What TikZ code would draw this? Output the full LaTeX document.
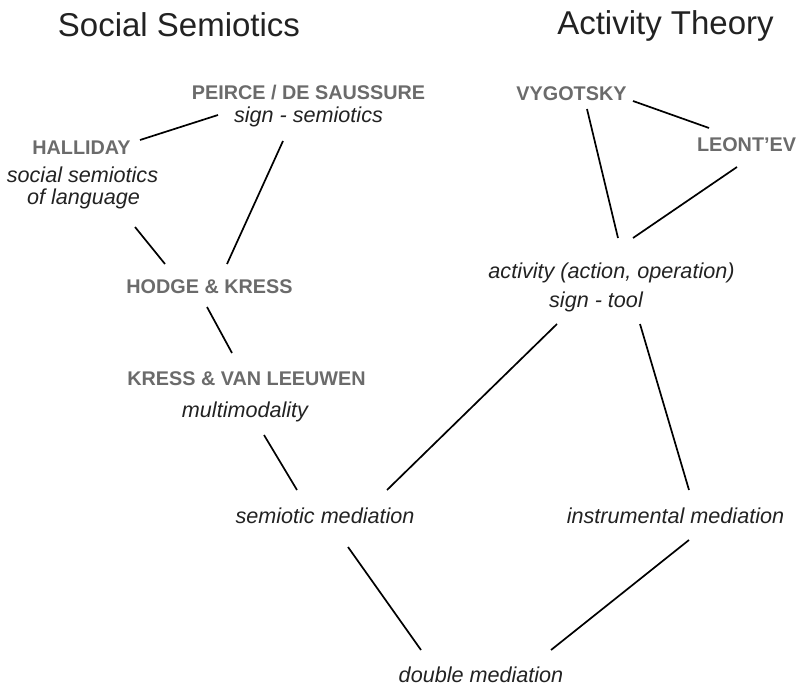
\documentclass[tikz,border=0pt]{standalone}
\usepackage{fontspec}
\setmainfont{Liberation Sans}
\definecolor{namegray}{HTML}{6B6B6B}
\definecolor{subblack}{HTML}{222222}
\begin{document}
\begin{tikzpicture}[x=1pt,y=-1pt,
  title/.style={font=\fontsize{33}{38}\selectfont, text=subblack, anchor=base, inner sep=0pt},
  person/.style={font=\fontsize{19.8}{24}\selectfont\bfseries, text=namegray, anchor=base, inner sep=0pt},
  concept/.style={font=\fontsize{21.6}{26}\selectfont\itshape, text=subblack, anchor=base, inner sep=0pt},
  link/.style={draw=black, line width=1.7pt}]
\useasboundingbox (0,0) rectangle (798,687);
% titles
\node[title] (ss) at (179,37) {Social Semiotics};
\node[title] (at) at (665.5,35) {Activity Theory};
% social semiotics side
\node[person]  (pei)   at (308.5,100) {PEIRCE / DE SAUSSURE};
\node[concept] (peis)  at (308.5,123) {sign - semiotics};
\node[person]  (hal)   at (81.5,155) {HALLIDAY};
\node[concept] (hals1) at (82.5,183) {social semiotics};
\node[concept] (hals2) at (83.5,205) {of language};
\node[person]  (hod)   at (209.5,293) {HODGE \& KRESS};
\node[person]  (kvl)   at (246.5,385) {KRESS \& VAN LEEUWEN};
\node[concept] (kvls)  at (245,417) {multimodality};
\node[concept] (sem)   at (325,523) {semiotic mediation};
% activity theory side
\node[person]  (vyg)   at (571.5,101) {VYGOTSKY};
\node[person]  (leo)   at (746.5,152) {LEONT’EV};
\node[concept] (act)   at (611.5,278) {activity (action, operation)};
\node[concept] (acts)  at (596,307) {sign - tool};
\node[concept] (ins)   at (675.5,523) {instrumental mediation};
\node[concept] (dbl)   at (481,682) {double mediation};
% connectors
\draw[link] ([shift={(58.5,-15)}]hal.base) -- ([shift={(-90.5,15)}]pei.base);
\draw[link] ([shift={(-25.5,18)}]peis.base) -- ([shift={(17.5,-29)}]hod.base);
\draw[link] ([shift={(51.5,22)}]hals2.base) -- ([shift={(-44.5,-29)}]hod.base);
\draw[link] ([shift={(-2.5,14)}]hod.base) -- ([shift={(-14.5,-32)}]kvl.base);
\draw[link] ([shift={(19,18)}]kvls.base) -- ([shift={(-28,-33)}]sem.base);
\draw[link] ([shift={(-39,17)}]acts.base) -- ([shift={(62,-33)}]sem.base);
\draw[link] ([shift={(44,17)}]acts.base) -- ([shift={(13.5,-33)}]ins.base);
\draw[link] ([shift={(23,24)}]sem.base) -- ([shift={(-60,-32)}]dbl.base);
\draw[link] ([shift={(13.5,17)}]ins.base) -- ([shift={(70,-32)}]dbl.base);
\draw[link] ([shift={(61.5,0)}]vyg.base) -- ([shift={(-37.5,-24)}]leo.base);
\draw[link] ([shift={(15.5,8)}]vyg.base) -- ([shift={(6.5,-40)}]act.base);
\draw[link] ([shift={(-9.5,15)}]leo.base) -- ([shift={(21.5,-40)}]act.base);
\end{tikzpicture}
\end{document}
